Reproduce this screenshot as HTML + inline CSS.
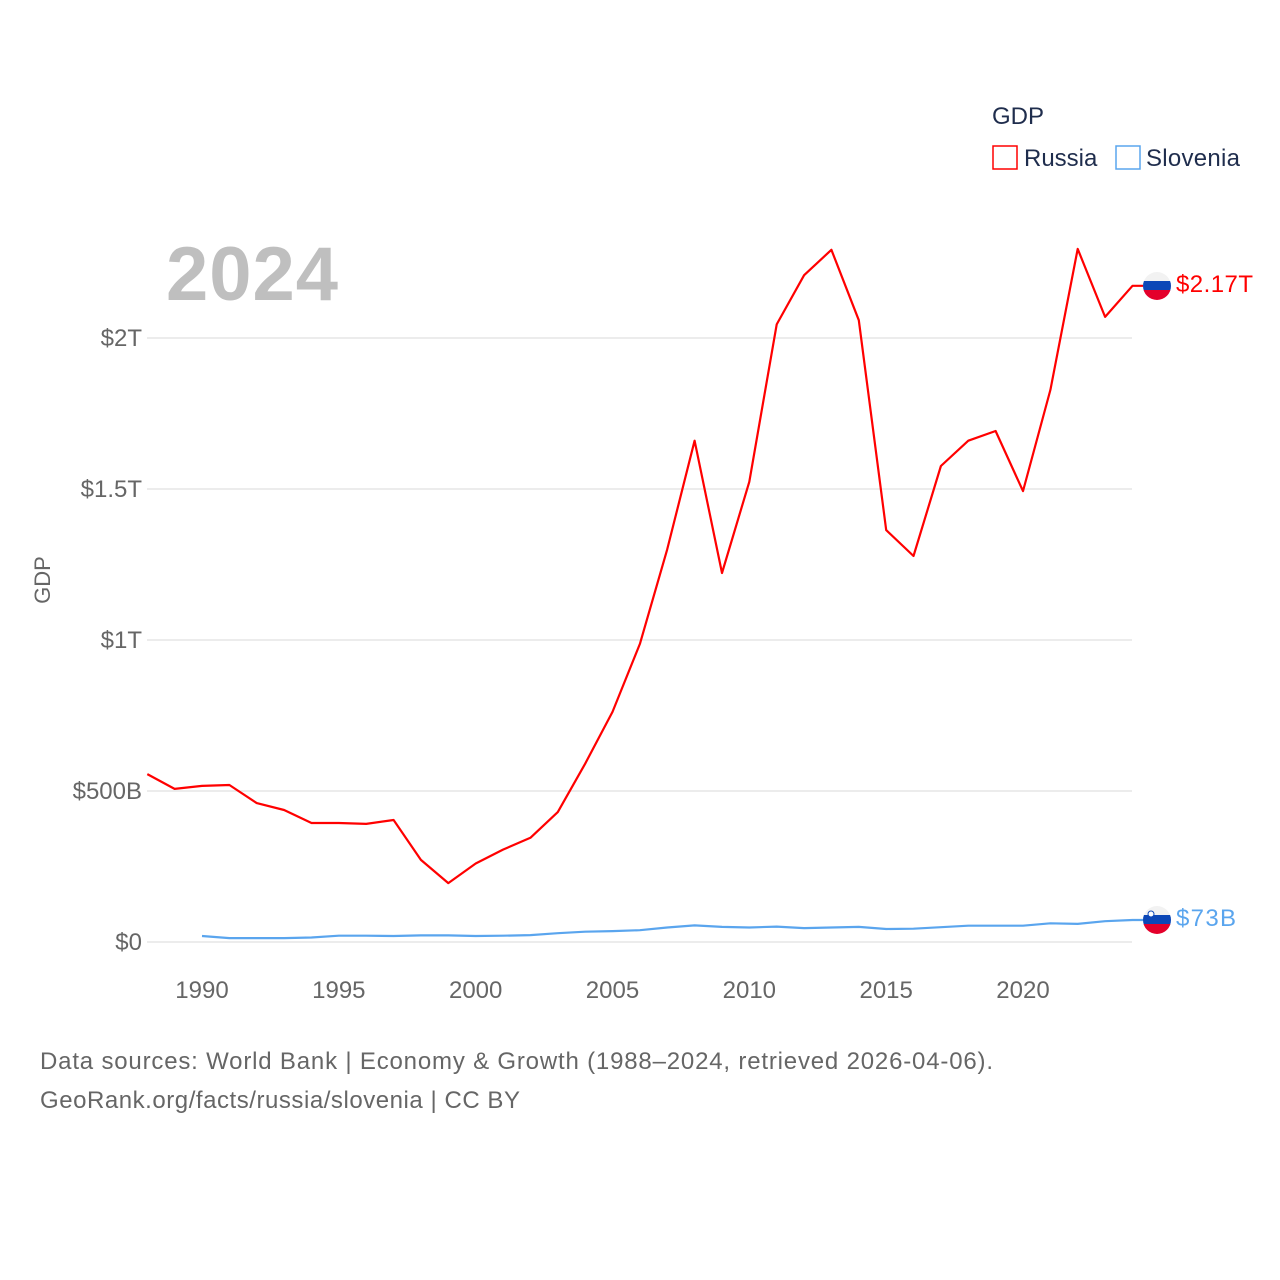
<!DOCTYPE html>
<html><head><meta charset="utf-8">
<style>
html,body{margin:0;padding:0;background:#fff;}
svg{display:block;font-family:"Liberation Sans",sans-serif;}
</style></head>
<body>
<svg id="chart" width="1280" height="1280" viewBox="0 0 1280 1280">
<defs>
<clipPath id="c1"><circle cx="1157" cy="286" r="14"/></clipPath>
<clipPath id="c2"><circle cx="1157" cy="920" r="14"/></clipPath>
</defs>
<g id="grid"></g>
<g id="yticks"></g>
<g id="xticks"></g>
<text x="50" y="580" font-size="22" fill="#666" text-anchor="middle" transform="rotate(-90 50 580)">GDP</text>
<text x="166" y="300" font-size="76" font-weight="bold" fill="#bfbfbf" textLength="172">2024</text>
<g id="series"></g>
<g>
<text x="992" y="124" font-size="24" fill="#1f2d4d">GDP</text>
<g>
<rect x="993" y="146" width="24" height="23" fill="none" stroke="#ff0000" stroke-width="1.5"/>
<text x="1024" y="166" font-size="24" fill="#1f2d4d">Russia</text></g>
<g>
<rect x="1116" y="146" width="24" height="23" fill="none" stroke="#5aa5ee" stroke-width="1.5"/>
<text x="1146" y="166" font-size="24" fill="#1f2d4d" textLength="94">Slovenia</text></g>
</g>
<g clip-path="url(#c1)">
<rect x="1143" y="272" width="28" height="10" fill="#f2f2f2"/>
<rect x="1143" y="281" width="28" height="10" fill="#0c47b7"/>
<rect x="1143" y="290" width="28" height="10" fill="#e4002b"/></g>
<g clip-path="url(#c2)">
<rect x="1143" y="906" width="28" height="10" fill="#f2f2f2"/>
<rect x="1143" y="915" width="28" height="10" fill="#0c47b7"/>
<rect x="1143" y="924" width="28" height="10" fill="#e4002b"/>
<circle cx="1151" cy="914" r="3" fill="#fff" stroke="#0c47b7"/></g>
<text x="1176" y="292" font-size="24" fill="#ff0000" textLength="77">$2.17T</text>
<text x="1176" y="926" font-size="24" fill="#5aa5ee" textLength="60">$73B</text>
<text x="40" y="1069" font-size="24" fill="#666" textLength="953">Data sources: World Bank | Economy &amp; Growth (1988–2024, retrieved 2026-04-06).</text>
<text x="40" y="1108" font-size="24" fill="#666" textLength="480">GeoRank.org/facts/russia/slovenia | CC BY</text>
</svg>
<script>
const years=[1988,1989,1990,1991,1992,1993,1994,1995,1996,1997,1998,1999,2000,2001,2002,2003,2004,2005,2006,2007,2008,2009,2010,2011,2012,2013,2014,2015,2016,2017,2018,2019,2020,2021,2022,2023,2024];
const russia=[556,507,517,520,460,437,394,394,391,404,272,195,260,306,345,430,590,762,987,1300,1660,1222,1524,2045,2208,2292,2059,1364,1278,1576,1660,1692,1493,1828,2295,2070,2173];
const sloveniaYears=[1990,1991,1992,1993,1994,1995,1996,1997,1998,1999,2000,2001,2002,2003,2004,2005,2006,2007,2008,2009,2010,2011,2012,2013,2014,2015,2016,2017,2018,2019,2020,2021,2022,2023,2024];
const slovenia=[20,13,13,13,15,21,21,20,22,22,20,21,23,29,34,36,39,48,55,50,48,51,46,48,50,43,44,49,54,54,54,62,60,69,73];
const yTicks=[0,500,1000,1500,2000];
const yTickLabels=["$0","$500B","$1T","$1.5T","$2T"];
const xTicks=[1990,1995,2000,2005,2010,2015,2020];
const NS="http://www.w3.org/2000/svg";
const X=y=>202+(y-1990)*(1023-202)/30;
const Y=v=>942-v*(604/2000);
function mk(t,a,p){const e=document.createElementNS(NS,t);for(const k in a)e.setAttribute(k,a[k]);p.appendChild(e);return e;}
const grid=document.getElementById('grid'),yt=document.getElementById('yticks'),xt=document.getElementById('xticks'),ser=document.getElementById('series');
yTicks.forEach((v,i)=>{
 const l=mk('line',{x1:147,x2:1132,y1:Y(v),y2:Y(v),stroke:'#e6e6e6','stroke-width':1.5},grid);
 
 
 const t=mk('text',{x:142,y:Y(v)+8,'font-size':24,fill:'#666','text-anchor':'end'},yt);
 t.textContent=yTickLabels[i];
 
 
});
xTicks.forEach(y=>{
 const t=mk('text',{x:X(y),y:998,'font-size':24,fill:'#666','text-anchor':'middle'},xt);
 t.textContent=y;
 
 
});
function line(xs,vs,color,name){
 let d=xs.map((y,i)=>(i?'L':'M')+X(y).toFixed(1)+','+Y(vs[i]).toFixed(1)).join('');
 d+='L1143,'+Y(vs[vs.length-1]).toFixed(1);
 const p=mk('path',{d:d,fill:'none',stroke:color,'stroke-width':2.2,'stroke-linejoin':'round'},ser);
 
 
}
line(years,russia,'#ff0000','russia-line');
line(sloveniaYears,slovenia,'#5aa5ee','slovenia-line');
</script>
</body></html>
